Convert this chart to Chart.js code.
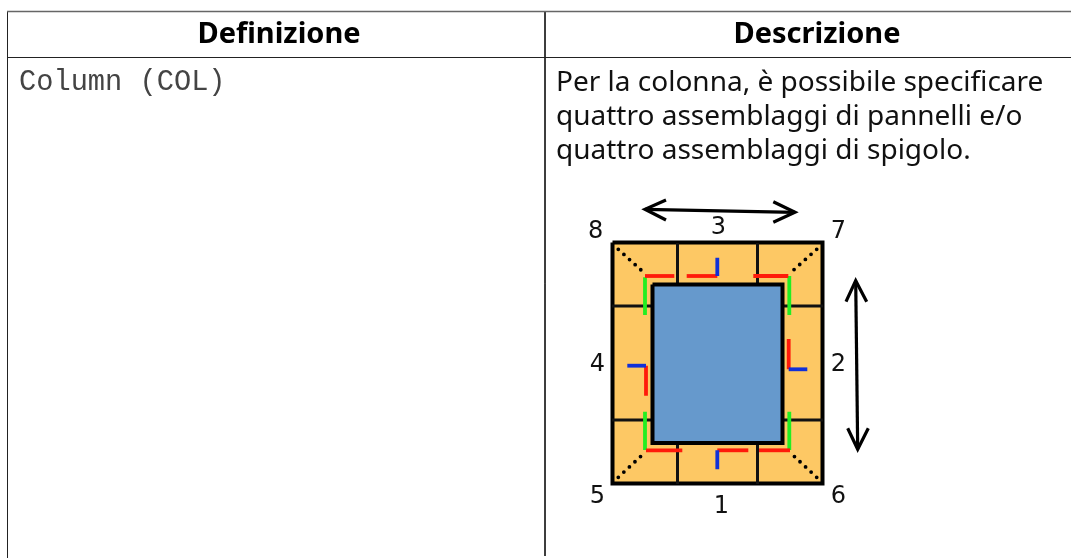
<!DOCTYPE html>
<html><head><meta charset="utf-8">
<style>html,body{margin:0;padding:0;background:#fff}canvas{display:block}</style>
<script src="https://cdn.jsdelivr.net/npm/chart.js@4"></script></head>
<body><canvas id="c" width="1071" height="558"></canvas>
<script>
// Table rules
const ruleTop=[[7,11.5],[1071,11.5]];
const ruleHeader=[[7,57.5],[1071,57.5]];
const ruleLeft=[[7.5,11],[7.5,558]];
const ruleColumn=[[545,11],[545,556]];
// Table text
const headers=["Definizione","Descrizione"];
const headerX=[279,817];
const headerY=[43,43];
const defText=["Column (COL)"];
const defX=[19];
const defY=[90];
const descText=["Per la colonna, è possibile specificare","quattro assemblaggi di pannelli e/o","quattro assemblaggi di spigolo."];
const descX=[556,556,556];
const descY=[91,125,159];
// Diagram
const outerFrame=[[612.5,242.5],[822.5,242.5],[822.5,483.5],[612.5,483.5],[612.5,242.5]];
const innerFrame=[[652.5,284.5],[782.5,284.5],[782.5,443],[652.5,443],[652.5,284.5]];
const dividers=[
 [[677.5,243],[677.5,284]],[[757.5,243],[757.5,284]],
 [[677.5,443],[677.5,484]],[[757.5,443],[757.5,484]],
 [[612,306],[652,306]],[[783,306],[823,306]],
 [[612,420],[652,420]],[[783,420],[823,420]]];
const dotted=[
 [[618.3,249.3],[644,272.7]],[[816.7,249.3],[791.7,271.7]],
 [[618.3,477.3],[644,453.3]],[[816.7,477.3],[791.7,454]]];
const redLines=[
 [[645,276],[674.3,276]],[[686.7,276],[717.3,276]],[[753.3,276],[788.3,276]],
 [[788.7,339],[788.7,369.3]],[[646,365.7],[646,395.7]],
 [[646,450.3],[682.3,450.3]],[[717.3,450.3],[748.3,450.3]],[[759,450.3],[790,450.3]]];
const blueLines=[
 [[717.3,257.7],[717.3,276]],[[788.7,369.3],[807.3,369.3]],
 [[627.3,365.7],[646,365.7]],[[717.3,450.3],[717.3,469.3]]];
const greenLines=[
 [[645,277.3],[645,315]],[[789.3,276],[789.3,315]],
 [[645,411.7],[645,450]],[[789.3,411.7],[789.3,450]]];
const arrows=[
 [[645,209.3],[795,212.3]],[[666,200],[645,209.3],[666,220]],[[773.3,201.7],[795,212.3],[773.3,222.3]],
 [[855.7,280.7],[857.7,449.3]],[[846,301.7],[855.7,280.7],[866.7,301.7]],[[847.7,428.3],[857.7,449.3],[868.3,428.3]]];
const digits=["8","3","7","4","2","5","1","6"];
const digitX=[595.7,718.3,838.3,597.3,838.3,597.3,721.5,838.3];
const digitY=[232,228,232,364.7,364.7,497,507,497];

const pts=a=>a.map(p=>({x:p[0],y:p[1]}));
const seg=(a,o)=>Object.assign({data:pts(a),showLine:true,pointRadius:0,pointHoverRadius:0,tension:0,borderJoinStyle:'miter',borderCapStyle:'butt',fill:false,soft:true},o);
const drawList=[];
drawList.push(seg(outerFrame,{borderColor:'#000',borderWidth:4,backgroundColor:'#FDC864',fill:'shape'}));
dividers.forEach(d=>drawList.push(seg(d,{borderColor:'#111',borderWidth:3})));
drawList.push(seg(innerFrame,{borderColor:'#000',borderWidth:4,backgroundColor:'#6699CC',fill:'shape'}));
dotted.forEach(d=>drawList.push(seg(d,{borderColor:'#000',borderWidth:3.8,borderDash:[0,7.6],borderCapStyle:'round'})));
greenLines.forEach(d=>drawList.push(seg(d,{borderColor:'#22EE22',borderWidth:3.8})));
redLines.forEach(d=>drawList.push(seg(d,{borderColor:'#FF1A0A',borderWidth:3.8})));
blueLines.forEach(d=>drawList.push(seg(d,{borderColor:'#1030D8',borderWidth:3.8})));
arrows.forEach(d=>drawList.push(seg(d,{borderColor:'#000',borderWidth:3.2})));
[ruleLeft,ruleColumn,ruleHeader].forEach(d=>drawList.push(seg(d,{borderColor:'#222',borderWidth:1,soft:false})));
drawList.push(seg(ruleTop,{borderColor:'#666',borderWidth:1.4,soft:false}));

const softPlugin={id:'softRaster',
  beforeDatasetDraw(chart,args){const ds=chart.data.datasets[args.index];chart.ctx.filter=ds.soft?'blur(0.6px)':'none';},
  afterDatasetDraw(chart){chart.ctx.filter='none';}};
const textPlugin={id:'tableText',afterDatasetsDraw(chart){
  const {ctx,scales:{x,y}}=chart;
  const put=(t,px,py,font,align,col)=>{ctx.font=font;ctx.textAlign=align;ctx.textBaseline='alphabetic';ctx.fillStyle=col;ctx.fillText(t,x.getPixelForValue(px),y.getPixelForValue(py));};
  ctx.save();
  headers.forEach((t,i)=>put(t,headerX[i],headerY[i],'bold 29px "Noto Sans"','center','#000'));
  defText.forEach((t,i)=>put(t,defX[i],defY[i],'28.7px "Liberation Mono"','left','#444'));
  descText.forEach((t,i)=>put(t,descX[i],descY[i],'28px "Noto Sans"','left','#111'));
  ctx.filter='blur(0.5px)';
  digits.forEach((t,i)=>{ctx.font='24px "DejaVu Sans"';ctx.textAlign='center';ctx.textBaseline='middle';ctx.fillStyle='#111';ctx.fillText(t,x.getPixelForValue(digitX[i]),y.getPixelForValue(digitY[i]));});
  ctx.restore();
}};

new Chart(document.getElementById('c'),{
 type:'scatter',
 data:{datasets:drawList.reverse()},
 options:{responsive:false,animation:false,events:[],layout:{padding:0},
  plugins:{legend:{display:false},tooltip:{enabled:false},title:{display:false}},
  scales:{x:{type:'linear',min:0,max:1071,display:false},y:{type:'linear',min:0,max:558,reverse:true,display:false}}},
 plugins:[softPlugin,textPlugin]
});
</script></body></html>
